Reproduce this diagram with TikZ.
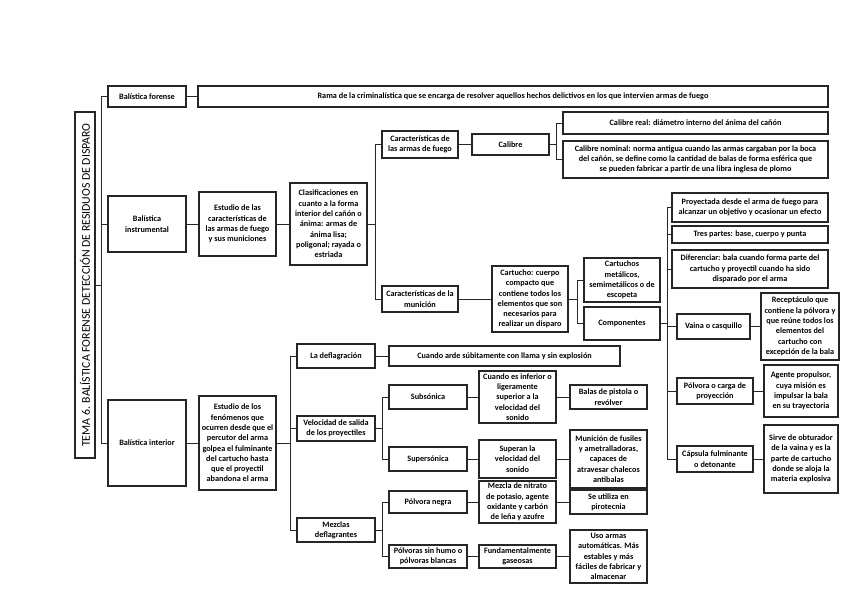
\documentclass[tikz,border=0pt]{standalone}
\usepackage{fontspec}
\setmainfont{Carlito}
\newcommand\bxnode[7][]{%
  \pgfmathsetmacro\bxW{#5-#3}%
  \pgfmathsetmacro\bxH{#6-#4}%
  \pgfmathsetmacro\bxX{(#3+#5)/2}%
  \pgfmathsetmacro\bxY{(#4+#6)/2}%
  \node[box,minimum width=\bxW pt,minimum height=\bxH pt,#1] (#2) at (\bxX,\bxY) {#7};}
\begin{document}
\begin{tikzpicture}[x=1pt,y=-1pt,
  box/.style={draw=black!85,line width=1.2pt,align=center,inner sep=0pt,
    font=\fontsize{8.2}{10.3}\selectfont\bfseries},
  conn/.style={draw=black!85,line width=0.9pt}]
\useasboundingbox (0,0) rectangle (848,599);
\fill[white] (0,0) rectangle (848,599);
% title
\node[draw=black!85,line width=1.2pt,rotate=90,minimum width=346pt,minimum height=20pt,inner sep=0pt,
  font=\fontsize{11.8}{13}\selectfont] (title) at (85,285) {TEMA 6. BALÍSTICA FORENSE  DETECCIÓN DE RESIDUOS DE DISPARO};
% level 1
\bxnode{forense}{108}{86}{186}{107}{Balística forense}
\bxnode{fdef}{198}{86}{828}{107}{Rama de la criminalística que se encarga de resolver aquellos hechos delictivos en los que intervien armas de fuego}
\bxnode{instr}{108}{196}{186}{252}{Balística\\instrumental}
\bxnode{interior}{108}{400}{186}{486}{Balística interior}
% instrumental
\bxnode{estC}{199}{192}{276}{256}{Estudio de las\\características de\\las armas de fuego\\y sus municiones}
\bxnode{clasif}{290}{183}{367}{265}{Clasificaciones en\\cuanto a la forma\\interior del cañón o\\ánima: armas de\\ánima lisa;\\poligonal; rayada o\\estriada}
\bxnode{armas}{382}{131}{458}{158}{Características de\\las armas de fuego}
\bxnode{calibre}{472}{134}{549}{155}{Calibre}
\bxnode{creal}{563}{112}{828}{134}{Calibre real: diámetro interno del ánima del cañón}
\bxnode{cnom}{563}{141}{828}{178}{Calibre nominal: norma antigua cuando las armas cargaban por la boca\\del cañón, se define como la cantidad de balas de forma esférica que\\se pueden fabricar a partir de una libra inglesa de plomo}
\bxnode{municion}{382}{286}{458}{312}{Características de la\\munición}
\bxnode{cartucho}{492}{266}{568}{332}{Cartucho: cuerpo\\compacto que\\contiene todos los\\elementos que son\\necesarios para\\realizar un disparo}
\bxnode{metal}{584}{258}{660}{302}{Cartuchos\\metálicos,\\semimetálicos o de\\escopeta}
\bxnode{comp}{584}{307}{660}{340}{Componentes}
\bxnode{proy}{672}{193}{828}{222}{Proyectada desde el arma de fuego para\\alcanzar un objetivo y ocasionar un efecto}
\bxnode{tres}{672}{226}{828}{243}{Tres partes: base, cuerpo y punta}
\bxnode{dif}{672}{250}{828}{288}{Diferenciar: bala cuando forma parte del\\cartucho y proyectil cuando ha sido\\disparado por el arma}
\bxnode{vaina}{677}{314}{750}{339}{Vaina o casquillo}
\bxnode{recep}{761}{293}{839}{360}{Receptáculo que\\contiene la pólvora y\\que reúne todos los\\elementos del\\cartucho con\\excepción de la bala}
\bxnode{polC}{677}{378}{753}{404}{Pólvora o carga de\\proyección}
\bxnode{agente}{764}{365}{838}{417}{Agente propulsor,\\cuya misión es\\impulsar la bala\\en su trayectoria}
\bxnode{caps}{677}{446}{753}{472}{Cápsula fulminante\\o detonante}
\bxnode{sirve}{764}{425}{838}{493}{Sirve de obturador\\de la vaina y es la\\parte de cartucho\\donde se aloja la\\materia explosiva}
% interior
\bxnode{fenom}{199}{396}{276}{490}{Estudio de los\\fenómenos que\\ocurren desde que el\\percutor del arma\\golpea el fulminante\\del cartucho hasta\\que el proyectil\\abandona el arma}
\bxnode{deflag}{297}{344}{375}{368}{La deflagración}
\bxnode{arde}{389}{346}{620}{366}{Cuando arde súbitamente con llama y sin explosión}
\bxnode{veloc}{297}{416}{375}{441}{Velocidad de salida\\de los proyectiles}
\bxnode{mezclas}{297}{518}{375}{542}{Mezclas\\deflagrantes}
\bxnode{subs}{389}{385}{467}{409}{Subsónica}
\bxnode{inferior}{479}{371}{556}{423}{Cuando es inferior o\\ligeramente\\superior a la\\velocidad del\\sonido}
\bxnode{balas}{570}{385}{647}{409}{Balas de pistola o\\revólver}
\bxnode{supers}{389}{447}{467}{471}{Supersónica}
\bxnode{superan}{479}{440}{556}{478}{Superan la\\velocidad del\\sonido}
\bxnode{munF}{570}{430}{647}{488}{Munición de fusiles\\y ametralladoras,\\capaces de\\atravesar chalecos\\antibalas}
\bxnode{negra}{389}{491}{467}{513}{Pólvora negra}
\bxnode{nitrato}{479}{481}{556}{523}{Mezcla de nitrato\\de potasio, agente\\oxidante y carbón\\de leña y azufre}
\bxnode{piro}{570}{490}{647}{514}{Se utiliza en\\pirotecnia}
\bxnode{sinhumo}{389}{545}{467}{568}{Pólvoras sin humo o\\pólvoras blancas}
\bxnode{gaseosas}{479}{545}{556}{568}{Fundamentalmente\\gaseosas}
\bxnode{uso}{570}{530}{647}{583}{Uso armas\\automáticas. Más\\estables y más\\fáciles de fabricar y\\almacenar}
% connectors
\foreach \c in {forense,instr,interior} \draw[conn] (title.south) -- ++(6,0) |- (\c.west);
\draw[conn] (forense.east) -- (fdef.west);
\draw[conn] (instr.east) -- (estC.west);
\draw[conn] (estC.east) -- (clasif.west);
\foreach \c in {armas,municion} \draw[conn] (clasif.east) -- ++(8,0) |- (\c.west);
\draw[conn] (armas.east) -- (calibre.west);
\foreach \c in {creal,cnom} \draw[conn] (calibre.east) -- ++(7,0) |- (\c.west);
\draw[conn] (municion.east) -- (cartucho.west);
\foreach \c in {metal,comp} \draw[conn] (cartucho.east) -- ++(9,0) |- (\c.west);
\foreach \c in {proy,tres,dif,vaina,polC,caps} \draw[conn] (comp.east) -- ++(7,0) |- (\c.west);
\draw[conn] (vaina.east) -- (recep.west);
\draw[conn] (polC.east) -- (agente.west);
\draw[conn] (caps.east) -- (sirve.west);
\draw[conn] (interior.east) -- (fenom.west);
\foreach \c in {deflag,veloc,mezclas} \draw[conn] (fenom.east) -- ++(14,0) |- (\c.west);
\draw[conn] (deflag.east) -- (arde.west);
\foreach \c in {subs,supers} \draw[conn] (veloc.east) -- ++(7,0) |- (\c.west);
\draw[conn] (subs.east) -- (inferior.west);
\draw[conn] (inferior.east) -- (balas.west);
\draw[conn] (supers.east) -- (superan.west);
\draw[conn] (superan.east) -- (munF.west);
\foreach \c in {negra,sinhumo} \draw[conn] (mezclas.east) -- ++(7,0) |- (\c.west);
\draw[conn] (negra.east) -- (nitrato.west);
\draw[conn] (nitrato.east) -- (piro.west);
\draw[conn] (sinhumo.east) -- (gaseosas.west);
\draw[conn] (gaseosas.east) -- (uso.west);
\end{tikzpicture}
\end{document}
